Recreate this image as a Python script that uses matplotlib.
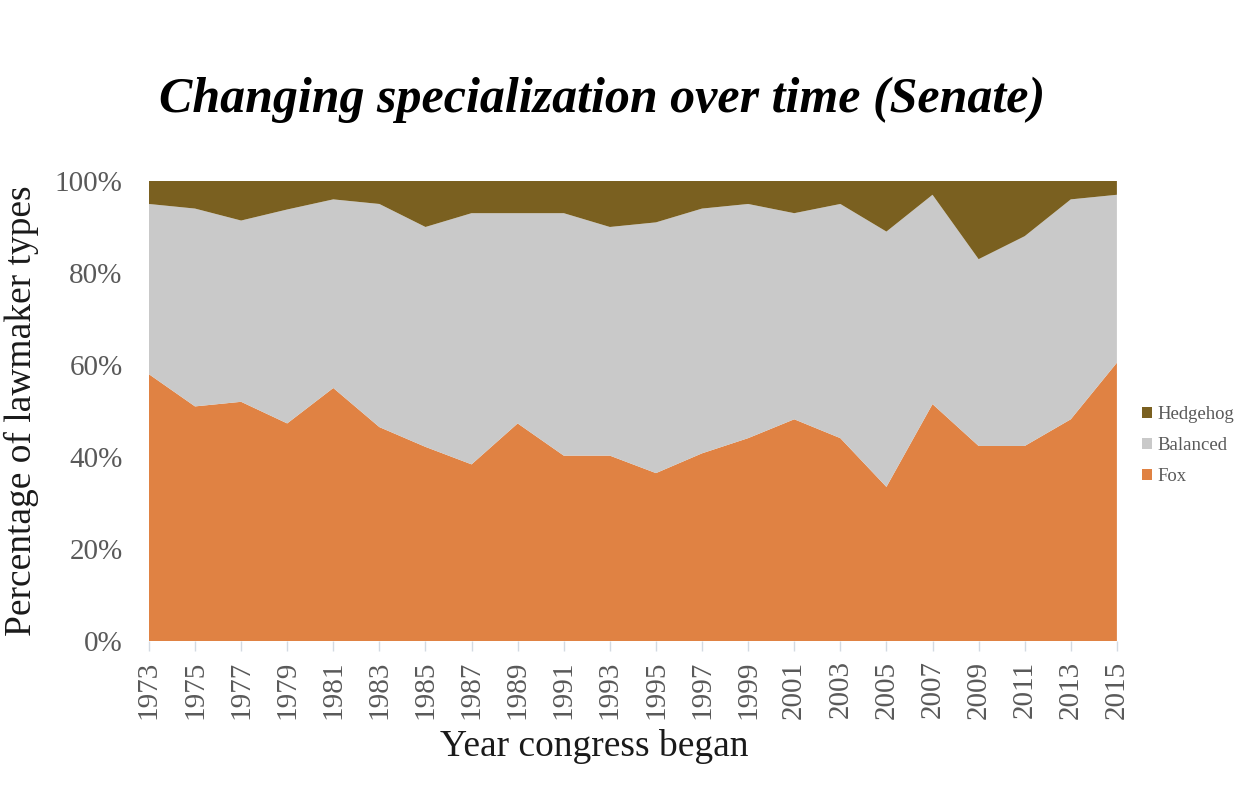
import matplotlib
matplotlib.use("Agg")
import matplotlib.pyplot as plt
from matplotlib.ticker import FuncFormatter
import numpy as np

years = list(range(1973, 2016, 2))
fox = [58, 51, 52, 47.3, 55, 46.5, 42.2, 38.4, 47.3, 40.3, 40.3, 36.5, 40.8, 44.1,
       48.2, 44.1, 33.5, 51.5, 42.4, 42.4, 48.2, 60.5]
fox_plus_balanced = [95, 94, 91.4, 93.8, 96, 95, 90, 93, 93, 93, 90, 91, 94, 95,
                     93, 95, 89, 97, 83, 88, 96, 97]
balanced = [t - f for t, f in zip(fox_plus_balanced, fox)]
hedgehog = [100 - t for t in fox_plus_balanced]
series_names = ["Fox", "Balanced", "Hedgehog"]
colors = ["#E08243", "#C9C9C9", "#7A6020"]

plt.rcParams['font.family'] = ['Liberation Serif', 'DejaVu Serif']
fig = plt.figure(figsize=(12.41, 7.99), dpi=100)
ax = fig.add_axes([0.120, 0.1977, 0.780, 0.5758])

ax.stackplot(years, fox, balanced, hedgehog, colors=colors, labels=series_names, linewidth=0)
ax.set_xlim(years[0], years[-1])
ax.set_ylim(0, 100)
ax.set_xticks(years)
ax.set_xticklabels([str(y) for y in years], rotation=90, fontsize=21, color="#595959")
ax.set_yticks(range(0, 101, 20))
ax.yaxis.set_major_formatter(FuncFormatter(lambda v, p: f"{int(v)}%"))
for lab in ax.get_yticklabels():
    lab.set_fontsize(21)
    lab.set_color("#595959")
ax.tick_params(axis='y', length=0, pad=19)
ax.tick_params(axis='x', length=7, width=1, color="#D3DAE2", pad=7)
for s in ax.spines.values():
    s.set_visible(False)

ax.set_ylabel("Percentage of lawmaker types", fontsize=27, color="#1a1a1a")
ax.yaxis.set_label_coords(-0.114, 0.5)
fig.text(594 / 1241, 1 - 746 / 799, "Year congress began", ha="center", va="center",
         fontsize=27, color="#1a1a1a")

fig.text(0.485, 0.875, "Changing specialization over time (Senate)", ha="center", va="center",
         fontsize=36, fontweight="bold", fontstyle="italic", color="black")

handles, labels = ax.get_legend_handles_labels()
leg = fig.legend(handles[::-1], labels[::-1], loc="center left", bbox_to_anchor=(0.920, 0.442),
                 frameon=False, fontsize=13.5, handlelength=0.55, handleheight=0.55,
                 handletextpad=0.3, labelspacing=0.75, labelcolor="#595959",
                 borderpad=0, borderaxespad=0)

fig.savefig("out.png", dpi=100)
